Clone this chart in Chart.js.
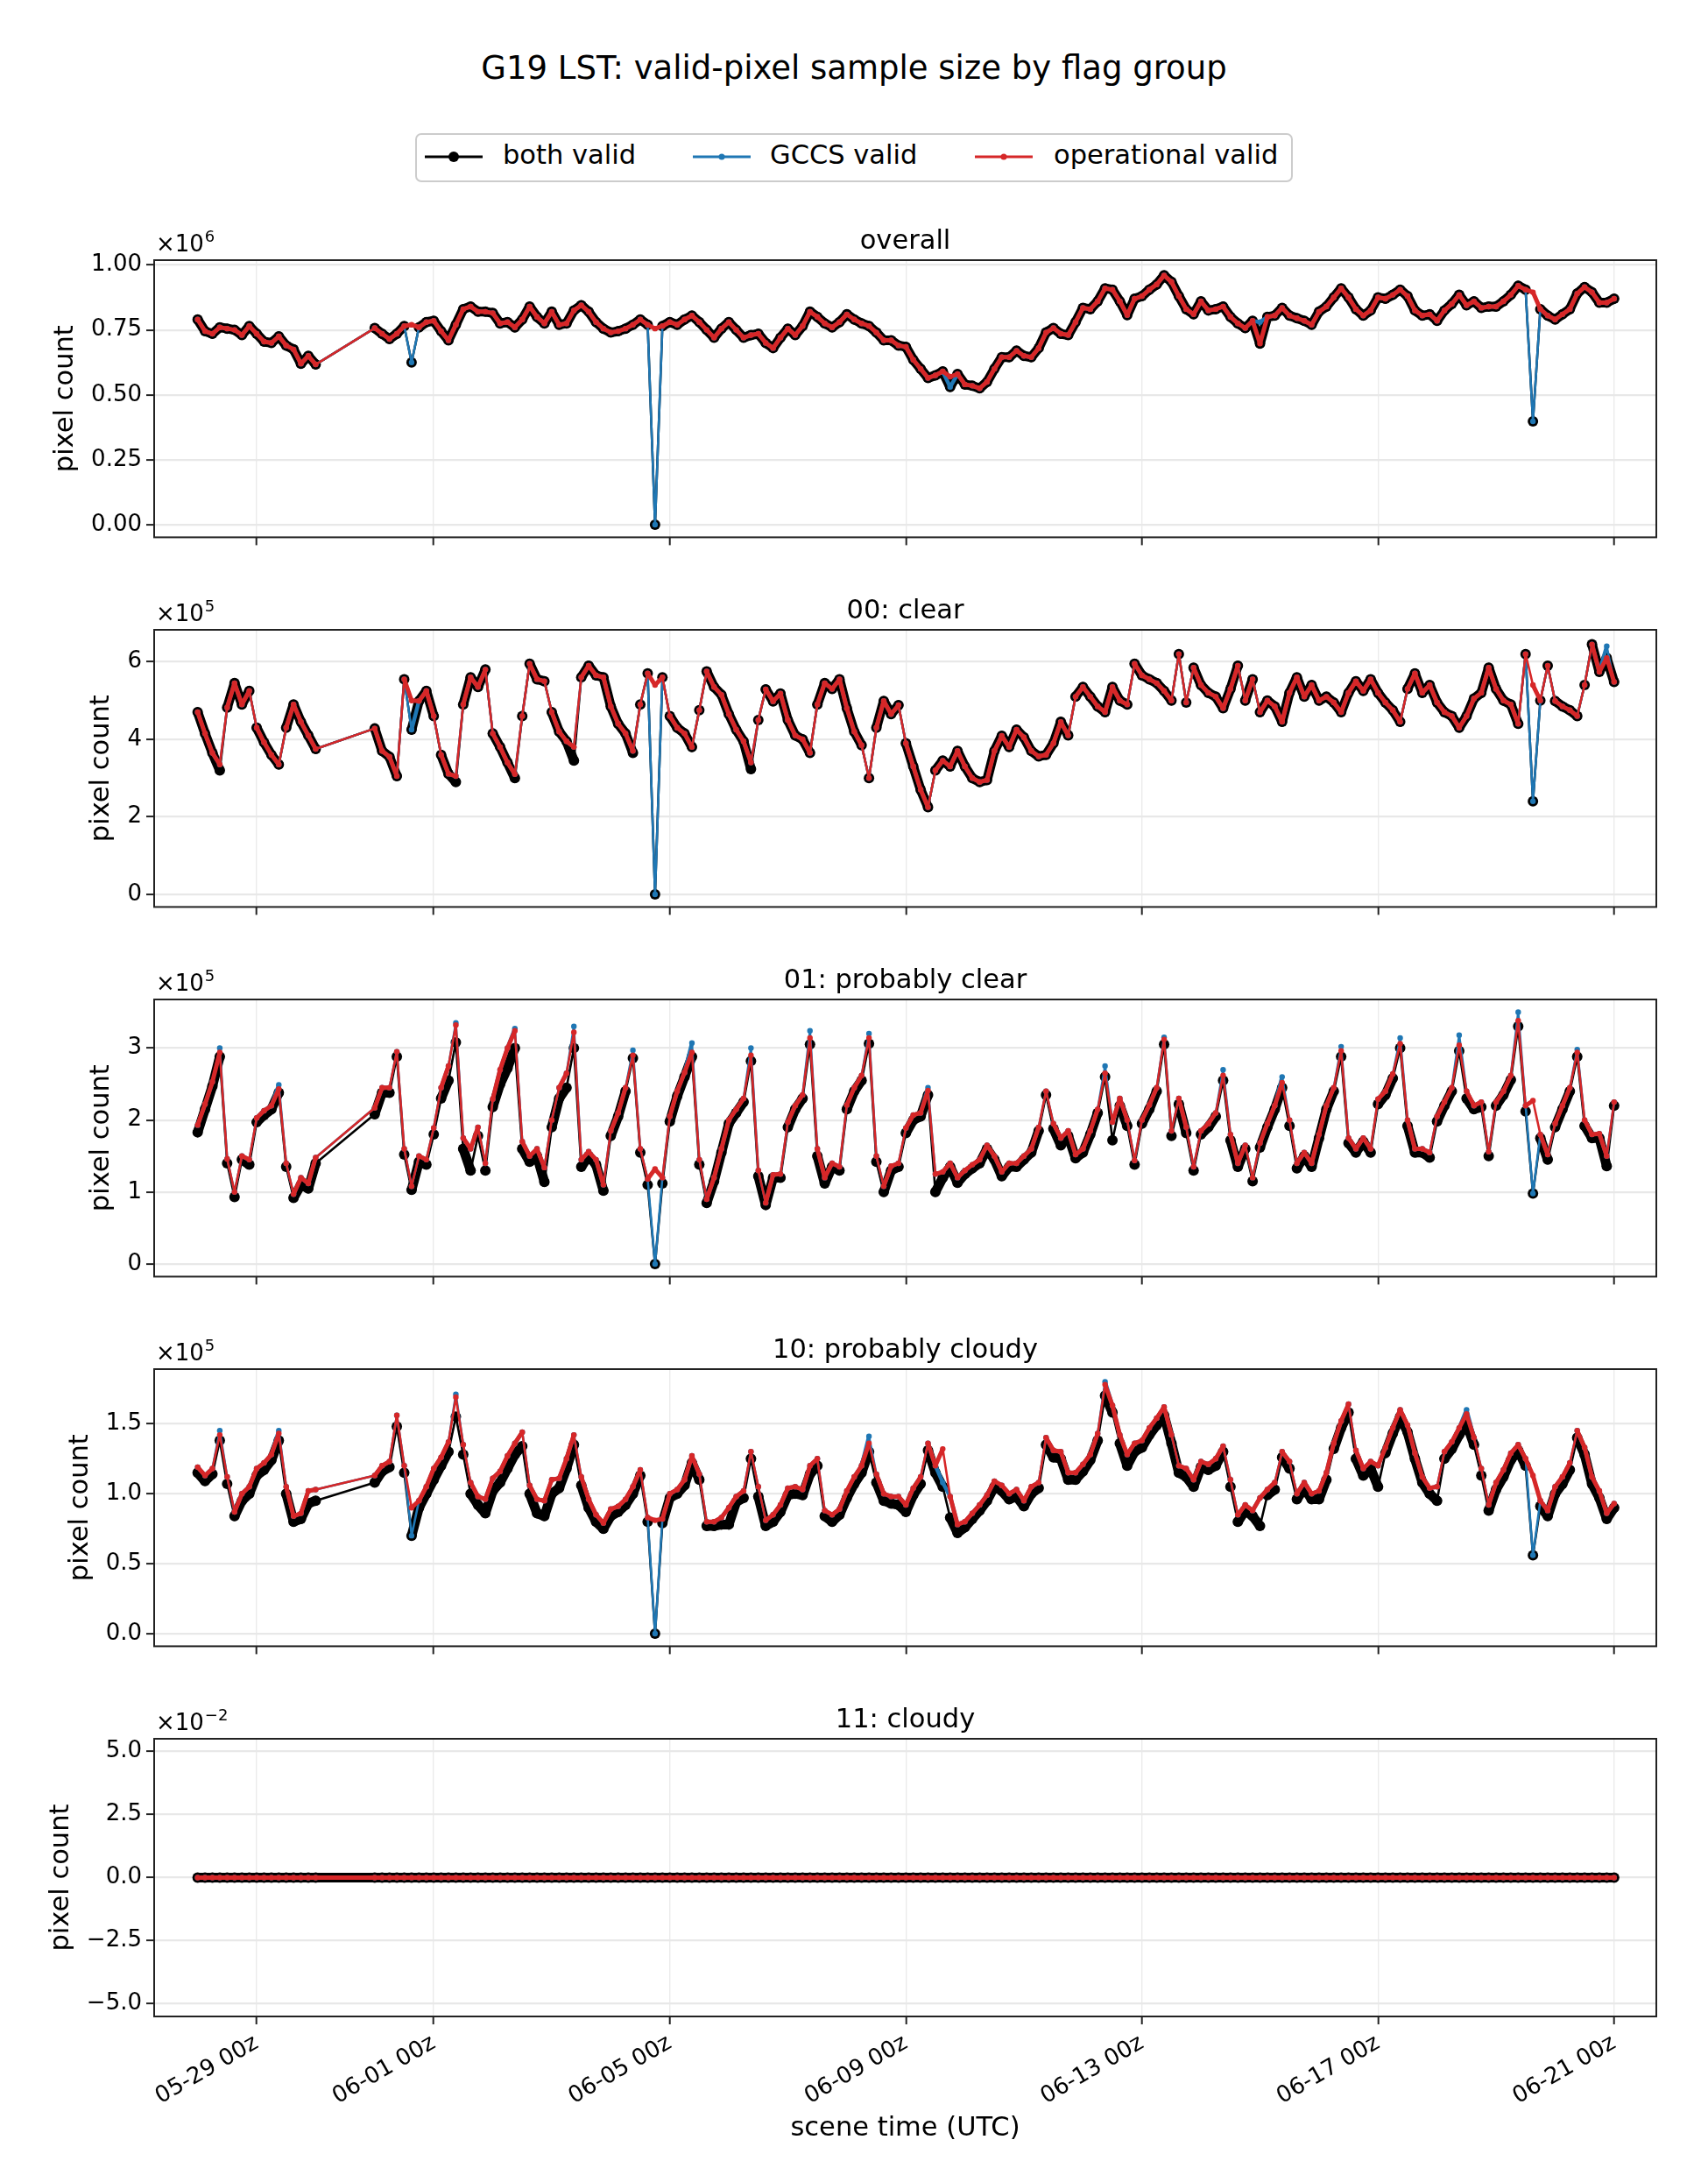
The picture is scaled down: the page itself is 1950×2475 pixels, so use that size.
<!DOCTYPE html>
<html>
<head>
<meta charset="utf-8">
<title>G19 LST valid-pixel sample size</title>
<script src="https://cdn.jsdelivr.net/npm/chart.js@4.4.1/dist/chart.umd.min.js"></script>
<style>
  body { margin: 0; background: #fff; width: 1950px; height: 2475px; position: relative; overflow: hidden;
         font-family: "DejaVu Sans", sans-serif; color: #000; }
  #suptitle { position: absolute; left: 0; width: 1950px; top: 59px; text-align: center; font-size: 37px; line-height: 37px; }
  #legend { position: absolute; left: 474px; top: 152px; width: 1002px; height: 56px; box-sizing: border-box;
            border: 2px solid #cccccc; border-radius: 7px; background: #fff; }
  .handle { position: absolute; top: 165px; }
  .lbl { position: absolute; top: 162px; font-size: 30.5px; line-height: 30.5px; white-space: nowrap; }
</style>
</head>
<body>
<div id="suptitle">G19 LST: valid-pixel sample size by flag group</div>
<div id="legend"></div>
<svg class="handle" style="left:485px" width="66" height="28"><line x1="0" y1="14" x2="66" y2="14" stroke="#000" stroke-width="3"/><circle cx="33" cy="14" r="6" fill="#000"/></svg>
<span class="lbl" style="left:574px">both valid</span>
<svg class="handle" style="left:791px" width="66" height="28"><line x1="0" y1="14" x2="66" y2="14" stroke="#1f77b4" stroke-width="3"/><circle cx="33" cy="14" r="3.5" fill="#1f77b4"/></svg>
<span class="lbl" style="left:879px">GCCS valid</span>
<svg class="handle" style="left:1113px" width="66" height="28"><line x1="0" y1="14" x2="66" y2="14" stroke="#d62728" stroke-width="3"/><circle cx="33" cy="14" r="3.5" fill="#d62728"/></svg>
<span class="lbl" style="left:1203px">operational valid</span>

<script>
// scene times: every 3 h from 05-28 00z to 06-21 00z (slots 17-23 have no data)
const firstScene = Date.UTC(2025, 4, 28, 0);
const sceneStepHours = 3;
const sceneCount = 193;

const xMin = Date.UTC(2025, 4, 27, 6, 19);
const xMax = Date.UTC(2025, 5, 21, 17, 10);
const xTickTimes = [Date.UTC(2025, 4, 29), Date.UTC(2025, 5, 1), Date.UTC(2025, 5, 5), Date.UTC(2025, 5, 9),
                    Date.UTC(2025, 5, 13), Date.UTC(2025, 5, 17), Date.UTC(2025, 5, 21)];
const xTickLabels = ['05-29 00z', '06-01 00z', '06-05 00z', '06-09 00z', '06-13 00z', '06-17 00z', '06-21 00z'];

const panelTitles = ['overall', '00: clear', '01: probably clear', '10: probably cloudy', '11: cloudy'];

// ---- overall (x1e6) ----
const opOverall = [
  0.790,0.745,0.735,0.760,0.755,0.750,0.730,0.765,0.735,0.705,0.700,0.725,0.690,0.675,0.620,0.650,0.617,
  null,null,null,null,null,null,null,
  0.757,0.735,0.715,0.735,0.765,0.770,0.760,0.780,
  0.785,0.745,0.710,0.770,0.830,0.840,0.820,0.820,
  0.815,0.775,0.780,0.760,0.790,0.840,0.800,0.775,
  0.820,0.770,0.775,0.825,0.845,0.820,0.780,0.755,
  0.740,0.745,0.755,0.770,0.790,0.770,0.755,0.765,
  0.780,0.770,0.790,0.805,0.780,0.750,0.720,0.755,
  0.780,0.750,0.720,0.730,0.735,0.700,0.680,0.720,
  0.755,0.730,0.765,0.820,0.800,0.775,0.760,0.780,
  0.810,0.790,0.775,0.765,0.740,0.710,0.710,0.690,
  0.685,0.635,0.600,0.565,0.575,0.590,0.570,0.580,
  0.540,0.535,0.525,0.550,0.600,0.645,0.645,0.670,
  0.650,0.645,0.680,0.740,0.757,0.735,0.730,0.780,
  0.835,0.830,0.860,0.910,0.905,0.860,0.807,0.870,
  0.880,0.905,0.925,0.960,0.935,0.880,0.830,0.810,
  0.860,0.825,0.830,0.840,0.800,0.775,0.757,0.785,
  0.697,0.800,0.805,0.835,0.805,0.795,0.785,0.770,
  0.820,0.840,0.875,0.910,0.875,0.830,0.805,0.825,
  0.875,0.870,0.885,0.905,0.880,0.825,0.805,0.810,
  0.785,0.825,0.850,0.885,0.845,0.860,0.835,0.840,
  0.840,0.860,0.885,0.920,0.905,0.895,0.830,0.805,
  0.790,0.810,0.830,0.890,0.915,0.895,0.855,0.855,0.870
];
// slots where the other series leave the operational curve
const gccsOverall = { 29: 0.625, 62: 0.0, 102: 0.53, 144: 0.78, 181: 0.398 };
const bothOverall = { 29: 0.625, 62: 0.0, 102: 0.53, 181: 0.398 };

// ---- 00: clear (x1e5) ----
const opClear = [
  4.70,4.15,3.65,3.35,4.82,5.45,4.90,5.25,4.30,3.92,3.60,3.35,4.30,4.90,4.45,4.10,3.75,
  null,null,null,null,null,null,null,
  4.28,3.70,3.55,3.05,5.55,5.00,4.99,5.25,
  4.60,3.60,3.11,3.05,4.90,5.60,5.35,5.80,
  4.15,3.80,3.40,3.10,4.60,5.95,5.55,5.50,
  4.70,4.20,3.95,3.80,5.60,5.90,5.65,5.60,
  4.85,4.40,4.15,3.70,4.90,5.70,5.40,5.60,
  4.60,4.30,4.15,3.80,4.75,5.75,5.35,5.15,
  4.65,4.25,3.95,3.40,4.50,5.29,4.98,5.18,
  4.50,4.10,4.00,3.65,4.90,5.45,5.30,5.55,
  4.80,4.20,3.85,3.00,4.30,4.99,4.65,4.88,
  3.90,3.30,2.70,2.25,3.20,3.45,3.30,3.70,
  3.30,3.00,2.90,2.95,3.70,4.09,3.80,4.25,
  4.05,3.70,3.56,3.60,3.90,4.45,4.10,5.10,
  5.35,5.10,4.85,4.70,5.35,5.00,4.90,5.95,
  5.65,5.55,5.45,5.25,5.00,6.20,4.95,5.85,
  5.40,5.20,5.10,4.80,5.30,5.90,5.00,5.55,
  4.70,5.00,4.85,4.45,5.20,5.60,5.10,5.40,
  5.00,5.10,4.95,4.70,5.20,5.50,5.25,5.55,
  5.20,4.95,4.75,4.45,5.30,5.70,5.20,5.40,
  4.95,4.70,4.60,4.30,4.60,5.05,5.20,5.85,
  5.30,5.00,4.90,4.40,6.20,5.40,5.00,5.90,
  4.99,4.85,4.75,4.60,5.40,6.45,5.74,6.10,5.48
];
const gccsClear = { 29: 4.25, 62: 0.0, 181: 2.4, 191: 6.4 };
const bothClear = { 3: 3.2, 29: 4.25, 35: 2.9, 43: 3.0, 51: 3.45, 59: 3.65, 62: 0.0, 75: 3.23, 181: 2.4 };

// ---- 01: probably clear (x1e5) ----
const opProbClear = [
  1.93,2.22,2.53,2.94,1.46,1.00,1.50,1.45,2.03,2.13,2.20,2.43,1.40,0.97,1.20,1.12,1.48,
  null,null,null,null,null,null,null,
  2.17,2.45,2.45,2.95,1.60,1.08,1.50,1.45,
  1.89,2.45,2.75,3.32,1.75,1.60,1.90,1.40,
  2.29,2.70,3.00,3.24,1.70,1.50,1.60,1.34,
  2.00,2.45,2.65,3.22,1.45,1.56,1.45,1.10,
  1.85,2.10,2.45,2.90,1.60,1.18,1.32,1.20,
  2.05,2.40,2.66,2.94,1.45,0.90,1.20,1.60,
  2.00,2.15,2.30,2.90,1.30,0.85,1.24,1.25,
  1.97,2.20,2.35,3.14,1.60,1.20,1.40,1.35,
  2.21,2.45,2.62,3.14,1.50,1.08,1.36,1.40,
  1.89,2.07,2.10,2.41,1.25,1.28,1.40,1.20,
  1.30,1.38,1.45,1.65,1.50,1.28,1.40,1.40,
  1.50,1.60,1.90,2.40,1.95,1.75,1.85,1.52,
  1.60,1.85,2.15,2.65,1.97,2.30,2.00,1.44,
  2.00,2.21,2.45,3.12,1.85,2.30,1.90,1.35,
  1.85,1.95,2.10,2.62,1.80,1.40,1.65,1.20,
  1.68,1.95,2.20,2.52,2.00,1.40,1.55,1.40,
  1.80,2.20,2.45,2.96,1.75,1.60,1.75,1.60,
  2.29,2.40,2.64,3.06,2.00,1.60,1.60,1.55,
  2.05,2.25,2.45,3.04,2.40,2.20,2.25,1.56,
  2.25,2.40,2.62,3.38,2.20,2.27,1.80,1.52,
  1.95,2.20,2.45,2.94,2.00,1.80,1.81,1.50,2.25
];
const gccsProbClear = { 3: 3.0, 11: 2.49, 35: 3.35, 43: 3.27, 51: 3.3, 59: 2.97, 62: 0.0, 67: 3.07, 75: 3.0,
                        83: 3.24, 91: 3.2, 99: 2.45, 123: 2.75, 131: 3.15, 139: 2.7, 147: 2.6, 155: 3.02,
                        163: 3.14, 171: 3.18, 179: 3.5, 181: 0.98, 187: 2.98 };
const bothProbClear = [
  1.83,2.15,2.47,2.88,1.40,0.93,1.45,1.38,1.97,2.07,2.15,2.38,1.35,0.92,1.10,1.05,1.40,
  null,null,null,null,null,null,null,
  2.08,2.38,2.38,2.88,1.52,1.03,1.42,1.38,
  1.80,2.30,2.55,3.08,1.60,1.30,1.78,1.30,
  2.18,2.50,2.72,3.00,1.60,1.42,1.50,1.14,
  1.90,2.30,2.45,3.00,1.35,1.50,1.38,1.02,
  1.78,2.05,2.40,2.86,1.55,1.10,0.00,1.12,
  1.98,2.33,2.60,2.88,1.38,0.85,1.15,1.55,
  1.95,2.10,2.25,2.82,1.22,0.82,1.20,1.20,
  1.90,2.15,2.30,3.05,1.50,1.12,1.35,1.30,
  2.15,2.40,2.55,3.06,1.42,1.00,1.30,1.35,
  1.82,2.00,2.05,2.35,1.00,1.20,1.35,1.13,
  1.25,1.33,1.40,1.60,1.45,1.22,1.35,1.35,
  1.45,1.55,1.85,2.35,1.88,1.65,1.78,1.47,
  1.55,1.80,2.10,2.60,1.72,2.20,1.92,1.38,
  1.95,2.15,2.40,3.05,1.78,2.22,1.82,1.30,
  1.80,1.90,2.05,2.55,1.72,1.35,1.60,1.15,
  1.62,1.90,2.15,2.45,1.92,1.33,1.50,1.35,
  1.75,2.15,2.40,2.88,1.68,1.55,1.70,1.55,
  2.22,2.35,2.58,3.00,1.92,1.55,1.55,1.48,
  1.98,2.20,2.40,2.96,2.30,2.15,2.18,1.50,
  2.20,2.35,2.56,3.30,2.12,0.98,1.75,1.45,
  1.90,2.15,2.40,2.88,1.92,1.75,1.75,1.36,2.20
];

// ---- 10: probably cloudy (x1e5) ----
const opProbCloudy = [
  1.19,1.13,1.18,1.42,1.12,0.87,1.00,1.05,1.18,1.22,1.28,1.43,1.05,0.84,0.86,1.02,1.03,
  null,null,null,null,null,null,null,
  1.13,1.20,1.23,1.56,1.20,0.90,0.95,1.05,
  1.18,1.26,1.37,1.69,1.35,1.08,0.98,0.96,
  1.11,1.16,1.27,1.36,1.44,1.06,0.96,0.95,
  1.10,1.11,1.25,1.42,1.12,0.96,0.85,0.79,
  0.89,0.91,0.96,1.05,1.17,0.83,0.81,0.82,
  1.00,1.03,1.10,1.27,1.14,0.80,0.80,0.83,
  0.90,0.98,1.02,1.30,1.05,0.81,0.85,0.92,
  1.04,1.05,1.03,1.20,1.25,0.88,0.85,0.89,
  1.02,1.12,1.20,1.36,1.14,1.00,0.98,0.98,
  0.92,1.04,1.12,1.36,1.20,1.32,0.98,0.78,
  0.80,0.86,0.92,0.99,1.09,1.06,1.00,1.03,
  0.95,1.05,1.08,1.40,1.31,1.30,1.15,1.15,
  1.21,1.28,1.43,1.78,1.63,1.42,1.28,1.36,
  1.38,1.47,1.54,1.62,1.42,1.20,1.18,1.10,
  1.23,1.21,1.25,1.34,1.10,0.85,0.92,0.88,
  0.97,1.03,1.08,1.30,1.23,1.00,1.08,1.00,
  1.02,1.15,1.36,1.52,1.64,1.31,1.18,1.23,
  1.20,1.33,1.47,1.60,1.49,1.29,1.12,1.04,
  1.05,1.30,1.37,1.47,1.57,1.40,1.18,0.92,
  1.08,1.17,1.29,1.35,1.25,1.13,0.95,0.88,
  1.05,1.12,1.22,1.45,1.33,1.12,1.02,0.86,0.93
];
const gccsProbCloudy = { 3: 1.45, 11: 1.45, 29: 0.7, 35: 1.71, 62: 0.0, 91: 1.41, 101: 1.08, 123: 1.8, 172: 1.6, 181: 0.56 };
const bothProbCloudy = [
  1.15,1.09,1.14,1.38,1.07,0.84,0.95,1.00,1.13,1.17,1.24,1.38,1.00,0.80,0.82,0.93,0.95,
  null,null,null,null,null,null,null,
  1.08,1.16,1.19,1.48,1.15,0.70,0.90,1.00,
  1.10,1.20,1.30,1.55,1.28,1.00,0.92,0.86,
  1.02,1.08,1.18,1.28,1.34,1.00,0.86,0.84,
  1.00,1.04,1.18,1.35,1.06,0.90,0.80,0.75,
  0.84,0.87,0.92,1.00,1.13,0.80,0.00,0.79,
  0.97,1.00,1.06,1.22,1.10,0.77,0.77,0.78,
  0.78,0.94,0.97,1.25,0.98,0.77,0.80,0.87,
  0.99,1.00,0.99,1.14,1.20,0.84,0.80,0.85,
  0.97,1.07,1.15,1.30,1.08,0.95,0.93,0.92,
  0.87,0.99,1.07,1.31,1.15,1.05,0.83,0.72,
  0.76,0.82,0.88,0.95,1.05,1.02,0.96,0.98,
  0.91,1.00,1.04,1.35,1.26,1.25,1.10,1.10,
  1.16,1.24,1.38,1.70,1.58,1.36,1.20,1.30,
  1.33,1.42,1.49,1.56,1.36,1.15,1.12,1.05,
  1.19,1.17,1.20,1.30,1.05,0.80,0.88,0.84,
  0.77,0.99,1.03,1.26,1.18,0.96,1.04,0.96,
  0.96,1.10,1.32,1.47,1.58,1.25,1.13,1.18,
  1.05,1.29,1.43,1.55,1.44,1.25,1.08,1.00,
  0.95,1.25,1.32,1.42,1.50,1.35,1.13,0.88,
  1.03,1.12,1.24,1.31,1.20,0.56,0.91,0.84,
  1.00,1.07,1.17,1.40,1.28,1.07,0.97,0.82,0.90
];

// ---- 11: cloudy (x1e-2) : every scene is zero for all three groups ----
const opCloudy = [
  0,0,0,0,0,0,0,0,0,0,0,0,0,0,0,0,0,
  null,null,null,null,null,null,null,
  0,0,0,0,0,0,0,0, 0,0,0,0,0,0,0,0, 0,0,0,0,0,0,0,0, 0,0,0,0,0,0,0,0,
  0,0,0,0,0,0,0,0, 0,0,0,0,0,0,0,0, 0,0,0,0,0,0,0,0, 0,0,0,0,0,0,0,0,
  0,0,0,0,0,0,0,0, 0,0,0,0,0,0,0,0, 0,0,0,0,0,0,0,0, 0,0,0,0,0,0,0,0,
  0,0,0,0,0,0,0,0, 0,0,0,0,0,0,0,0, 0,0,0,0,0,0,0,0, 0,0,0,0,0,0,0,0,
  0,0,0,0,0,0,0,0, 0,0,0,0,0,0,0,0, 0,0,0,0,0,0,0,0, 0,0,0,0,0,0,0,0,
  0,0,0,0,0,0,0,0,0
];
const gccsCloudy = opCloudy;
const bothCloudy = opCloudy;

// y axes
const yUnits = [1e6, 1e5, 1e5, 1e5, 1e-2];
const yExponents = ['6', '5', '5', '5', '\u22122'];
const yMins = [-0.0485, -0.325, -0.175, -0.09, -5.5];
const yMaxs = [1.0185, 6.825, 3.675, 1.89, 5.5];
const yTickValues = [[0, 0.25, 0.5, 0.75, 1.0], [0, 2, 4, 6], [0, 1, 2, 3], [0, 0.5, 1.0, 1.5], [-5, -2.5, 0, 2.5, 5]];
const yTickLabels = [['0.00', '0.25', '0.50', '0.75', '1.00'], ['0', '2', '4', '6'], ['0', '1', '2', '3'],
                     ['0.0', '0.5', '1.0', '1.5'], ['\u22125.0', '\u22122.5', '0.0', '2.5', '5.0']];

const sceneTimes = [];
for (let k = 0; k < sceneCount; k++) sceneTimes.push(firstScene + k * sceneStepHours * 3600e3);

function withReadings(base, readings) {
  return base.map((v, k) => (k in readings ? readings[k] : v));
}

const panelSeries = [
  [opOverall, withReadings(opOverall, gccsOverall), withReadings(opOverall, bothOverall)],
  [opClear, withReadings(opClear, gccsClear), withReadings(opClear, bothClear)],
  [opProbClear, withReadings(opProbClear, gccsProbClear), bothProbClear],
  [opProbCloudy, withReadings(opProbCloudy, gccsProbCloudy), bothProbCloudy],
  [opCloudy, gccsCloudy, bothCloudy]
];

Chart.defaults.font.family = '"DejaVu Sans", sans-serif';
Chart.defaults.color = '#000';

const TICK_FONT = 26;
const LABEL_FONT = 30.5;

// titles, offset text, axis labels and the frame, placed like matplotlib does
const panelText = {
  id: 'panelText',
  afterDraw(chart, args, opts) {
    const { ctx, chartArea: a } = chart;
    ctx.save();
    ctx.strokeStyle = '#222';
    ctx.lineWidth = 2;
    ctx.strokeRect(a.left, a.top, a.right - a.left, a.bottom - a.top);

    ctx.fillStyle = '#000';
    ctx.textBaseline = 'alphabetic';
    ctx.font = LABEL_FONT + 'px "DejaVu Sans"';
    ctx.textAlign = 'center';
    ctx.fillText(opts.title, (a.left + a.right) / 2, a.top - 13);

    ctx.textAlign = 'left';
    ctx.font = TICK_FONT + 'px "DejaVu Sans"';
    ctx.fillText('\u00d710', a.left + 2, a.top - 10);
    const w = ctx.measureText('\u00d710').width;
    ctx.font = '18px "DejaVu Sans"';
    ctx.fillText(opts.exponent, a.left + 3 + w, a.top - 21);

    ctx.font = TICK_FONT + 'px "DejaVu Sans"';
    const widest = Math.max(...opts.tickLabels.map(s => ctx.measureText(s).width));
    const cx = a.left - 14 - widest - 29;
    ctx.translate(cx, (a.top + a.bottom) / 2);
    ctx.rotate(-Math.PI / 2);
    ctx.font = LABEL_FONT + 'px "DejaVu Sans"';
    ctx.textAlign = 'center';
    ctx.textBaseline = 'middle';
    ctx.fillText('pixel count', 0, 0);
    ctx.restore();

    if (opts.xlabel) {
      ctx.save();
      ctx.font = LABEL_FONT + 'px "DejaVu Sans"';
      ctx.fillStyle = '#000';
      ctx.textAlign = 'center';
      ctx.textBaseline = 'alphabetic';
      ctx.fillText(opts.xlabel, (a.left + a.right) / 2, a.bottom + 136);
      ctx.restore();
    }
  }
};

// hourly scenes sit so close in the original that their markers merge into a band;
// gentle stretches are drawn as that band, steep jumps and the data gap stay thin
function bandWidth(thick, thin) {
  return ctx => {
    if (ctx.p1DataIndex - ctx.p0DataIndex > 1) return thin;
    return Math.abs(ctx.p1.y - ctx.p0.y) < 34 ? thick : thin;
  };
}

function series(label, values, unit, color, radius, order, thick) {
  return {
    label, order,
    data: sceneTimes.map((t, k) => ({ x: t, y: values[k] === null ? null : values[k] * unit })),
    borderColor: color, backgroundColor: color, pointBackgroundColor: color,
    borderWidth: 2.6, pointRadius: radius, pointBorderWidth: 0, pointHoverRadius: radius,
    borderCapStyle: 'round', borderJoinStyle: 'round',
    segment: { borderWidth: bandWidth(thick, 2.6) },
    tension: 0, spanGaps: true, fill: false
  };
}

const panelTops = [297, 719, 1141, 1563, 1985];
const plotH = 317, plotLeft = 176, plotRight = 1891, headRoom = 80;

panelTitles.forEach((title, i) => {
  const last = i === panelTitles.length - 1;
  const top = panelTops[i] - headRoom;
  const height = last ? 2475 - top : headRoom + plotH + 20;
  const xAxisH = last ? height - headRoom - plotH : 11;
  const unit = yUnits[i];

  const holder = document.createElement('div');
  holder.style.cssText = `position:absolute;left:0;top:${top}px;width:1950px;height:${height}px;`;
  const canvas = document.createElement('canvas');
  holder.appendChild(canvas);
  document.body.appendChild(holder);

  const [op, gccs, both] = panelSeries[i];

  new Chart(canvas, {
    type: 'line',
    data: {
      datasets: [
        series('both valid', both, unit, '#000000', 6, 3, 11),
        series('GCCS valid', gccs, unit, '#1f77b4', 3.2, 2, 4.5),
        series('operational valid', op, unit, '#d62728', 3.2, 1, 5)
      ]
    },
    options: {
      responsive: true,
      maintainAspectRatio: false,
      animation: false,
      events: [],
      layout: { padding: { top: headRoom, left: 0, right: 1950 - plotRight, bottom: height - headRoom - plotH - xAxisH } },
      plugins: {
        legend: { display: false },
        tooltip: { enabled: false },
        panelText: { title, exponent: yExponents[i], tickLabels: yTickLabels[i], xlabel: last ? 'scene time (UTC)' : '' }
      },
      scales: {
        x: {
          type: 'linear',
          min: xMin,
          max: xMax,
          afterBuildTicks: s => { s.ticks = xTickTimes.map(v => ({ value: v })); },
          afterFit: s => { s.height = xAxisH; },
          grid: { color: '#ebebeb', lineWidth: 1.4, drawTicks: true, tickLength: 9, tickColor: '#222', tickWidth: 2 },
          border: { display: false },
          ticks: {
            display: last, autoSkip: false, maxRotation: 30, minRotation: 30, padding: 6,
            color: '#000', font: { size: TICK_FONT },
            callback: (v, idx) => xTickLabels[idx]
          }
        },
        y: {
          min: yMins[i] * unit,
          max: yMaxs[i] * unit,
          afterBuildTicks: s => { s.ticks = yTickValues[i].map(v => ({ value: v * unit })); },
          afterFit: s => { s.width = plotLeft; },
          grid: { color: '#e8e8e8', lineWidth: 2.2, drawTicks: true, tickLength: 9, tickColor: '#222', tickWidth: 2 },
          border: { display: false },
          ticks: { padding: 5, color: '#000', font: { size: TICK_FONT }, callback: (v, idx) => yTickLabels[i][idx] }
        }
      }
    },
    plugins: [panelText]
  });
});
</script>
</body>
</html>
